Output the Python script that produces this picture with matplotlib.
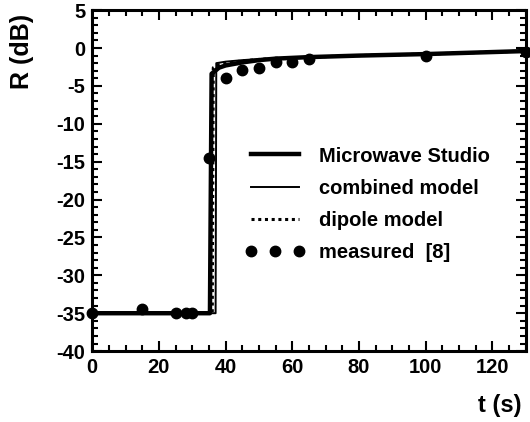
import matplotlib.pyplot as plt
from matplotlib.ticker import MultipleLocator

plt.rcParams['font.family'] = ['Liberation Sans', 'DejaVu Sans']
plt.rcParams['font.weight'] = 'bold'
plt.rcParams['axes.unicode_minus'] = False

# Microwave Studio simulation
t_mws = [0, 35.3, 35.8, 38, 40, 45, 50, 55, 60, 65, 80, 100, 130]
r_mws = [-35, -35, -3.4, -2.6, -2.3, -1.9, -1.6, -1.4, -1.3, -1.2, -1.0, -0.8, -0.4]

# combined model
t_comb = [0, 37.0, 37.2, 40, 45, 50, 55, 60, 65, 80, 100, 130]
r_comb = [-35, -35, -2.0, -1.8, -1.6, -1.45, -1.35, -1.3, -1.2, -1.0, -0.8, -0.4]

# dipole model
t_dip = [0, 36.0, 36.3, 38, 40, 45, 50, 55, 60, 65, 80, 100, 130]
r_dip = [-35, -35, -2.6, -2.2, -2.0, -1.7, -1.5, -1.4, -1.3, -1.2, -1.0, -0.8, -0.4]

# measured [8]
t_meas = [0, 15, 25, 28, 30, 35, 40, 45, 50, 55, 60, 65, 100, 130]
r_meas = [-35, -34.5, -35, -35, -35, -14.5, -4.0, -2.9, -2.7, -1.9, -1.8, -1.5, -1.1, -0.5]

fig = plt.figure(figsize=(5.3, 4.22), dpi=100)
ax = fig.add_axes([0.174, 0.168, 0.818, 0.808])

ax.plot(t_mws, r_mws, '-', color='black', lw=3.2, label='Microwave Studio')
ax.plot(t_comb, r_comb, '-', color='black', lw=1.4, label='combined model')
ax.plot(t_dip, r_dip, color='black', lw=2.2, dashes=(1, 1.2), label='dipole model')
ax.plot(t_meas, r_meas, 'o', color='black', ms=7.5, linestyle='none', label='measured  [8]',
        clip_on=False)

ax.set_xlim(0, 130)
ax.set_ylim(-40, 5)
ax.xaxis.set_major_locator(MultipleLocator(20))
ax.xaxis.set_minor_locator(MultipleLocator(5))
ax.yaxis.set_major_locator(MultipleLocator(5))
ax.yaxis.set_minor_locator(MultipleLocator(1))
ax.tick_params(which='both', direction='in', top=True, right=True, width=1.5,
               labelsize=14.5, pad=5)
ax.tick_params(which='major', length=7)
ax.tick_params(which='minor', length=4)
for s in ax.spines.values():
    s.set_linewidth(2.2)

fig.text(0.042, 0.877, 'R (dB)', rotation=90, ha='center', va='center',
         fontsize=18, fontweight='bold')
fig.text(0.943, 0.04, 't (s)', ha='center', va='center',
         fontsize=17, fontweight='bold')

ax.legend(loc='upper left', bbox_to_anchor=(0.3525, 0.60), frameon=False,
          fontsize=14.5, handlelength=3.0, handletextpad=0.65, numpoints=3,
          labelspacing=0.66, borderpad=0, borderaxespad=0)

fig.savefig('out.png', dpi=100, facecolor='white')
